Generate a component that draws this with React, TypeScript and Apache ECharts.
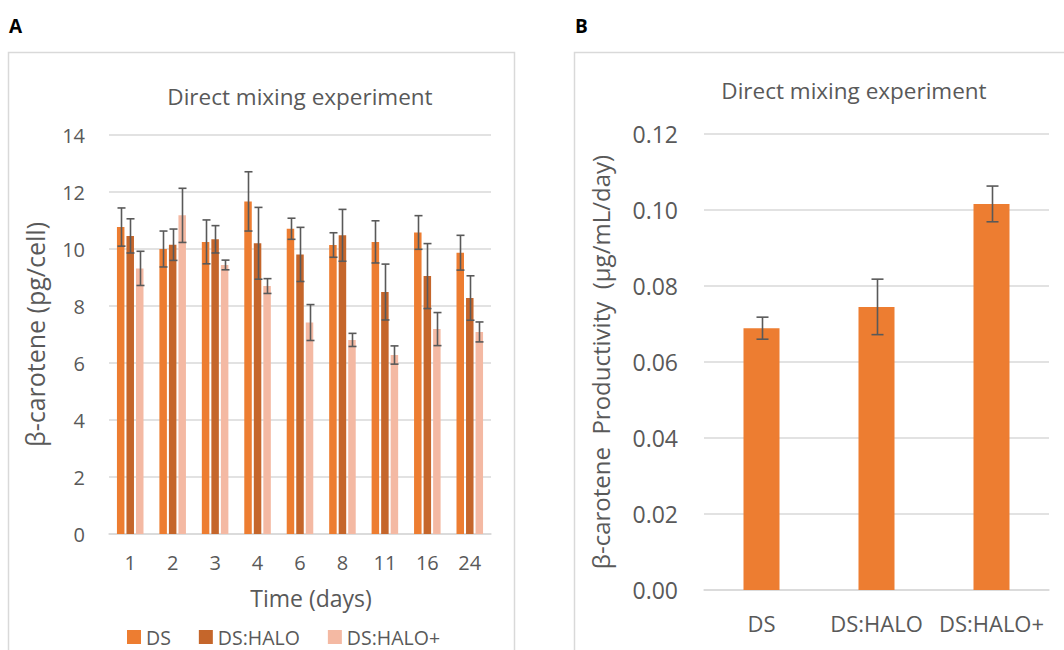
import React, { useEffect, useRef } from "react";
import * as echarts from "echarts";

const days = ["1", "2", "3", "4", "6", "8", "11", "16", "24"];
const dsMean = [10.77, 10.0, 10.25, 11.67, 10.71, 10.14, 10.25, 10.58, 9.87];
const dsErr = [0.67, 0.63, 0.77, 1.04, 0.37, 0.43, 0.74, 0.59, 0.61];
const haloMean = [10.46, 10.15, 10.34, 10.2, 9.81, 10.48, 8.49, 9.05, 8.28];
const haloErr = [0.6, 0.55, 0.48, 1.26, 0.95, 0.91, 0.98, 1.14, 0.78];
const haloPlusMean = [9.32, 11.18, 9.44, 8.7, 7.42, 6.81, 6.28, 7.19, 7.09];
const haloPlusErr = [0.6, 0.95, 0.17, 0.26, 0.63, 0.23, 0.32, 0.58, 0.35];
const seriesNamesA = ["DS", "DS:HALO", "DS:HALO+"];
const yTicksA = { min: 0, max: 14, interval: 2 };

const groupsB = ["DS", "DS:HALO", "DS:HALO+"];
const prodMean = [0.0689, 0.0745, 0.1016];
const prodErr = [0.0029, 0.0073, 0.0047];
const yTicksB = { min: 0, max: 0.12, interval: 0.02 };

const COLORS = ["#ED7D31", "#C5662B", "#F4B9A3"];
const GRID = "#D9D9D9";
const TXT = "#595959";
const ERR = "#595959";
const FONT = "'Open Sans', 'Noto Sans', sans-serif";

const BAR_W_A = 7.5;
const BAR_STEP_A = 9.5;

function errSeries(name: string, xi: number, yi: number, means: number[], errs: number[], offset: number, cap: number) {
  return {
    name,
    type: "custom",
    xAxisIndex: xi,
    yAxisIndex: yi,
    z: 10,
    silent: true,
    data: means.map((m, i) => [i, m - errs[i], m + errs[i]]),
    renderItem: (params: any, api: any) => {
      const idx = api.value(0);
      const lo = api.coord([idx, api.value(1)]);
      const hi = api.coord([idx, api.value(2)]);
      const cx = Math.round(lo[0] + offset) + 0.5;
      const st = { stroke: ERR, lineWidth: 1.6 };
      return {
        type: "group",
        children: [
          { type: "line", shape: { x1: cx, y1: hi[1], x2: cx, y2: lo[1] }, style: st },
          { type: "line", shape: { x1: cx - cap / 2, y1: hi[1], x2: cx + cap / 2, y2: hi[1] }, style: st },
          { type: "line", shape: { x1: cx - cap / 2, y1: lo[1], x2: cx + cap / 2, y2: lo[1] }, style: st },
        ],
      };
    },
  };
}

export default function App() {
  const ref = useRef<HTMLDivElement>(null);
  useEffect(() => {
    if (!ref.current) return;
    const chart = echarts.init(ref.current, undefined, { renderer: "svg" });
    const meansA = [dsMean, haloMean, haloPlusMean];
    const errsA = [dsErr, haloErr, haloPlusErr];
    const option: any = {
      animation: false,
      backgroundColor: "#ffffff",
      graphic: [
        { type: "rect", shape: { x: 8.5, y: 52.5, width: 506, height: 620 }, style: { fill: "none", stroke: GRID, lineWidth: 1.5 } },
        { type: "rect", shape: { x: 574.5, y: 52.5, width: 520, height: 620 }, style: { fill: "none", stroke: GRID, lineWidth: 1.5 } },
        { type: "text", style: { text: "A", x: 9, y: 26, textVerticalAlign: "middle", font: `bold 19px ${FONT}`, fill: "#000" } },
        { type: "text", style: { text: "B", x: 575, y: 26, textVerticalAlign: "middle", font: `bold 19px ${FONT}`, fill: "#000" } },
        { type: "text", style: { text: "Direct mixing experiment", x: 300, y: 96, textAlign: "center", textVerticalAlign: "middle", font: `22.5px ${FONT}`, fill: TXT } },
        { type: "text", style: { text: "Direct mixing experiment", x: 854, y: 90, textAlign: "center", textVerticalAlign: "middle", font: `22.5px ${FONT}`, fill: TXT } },
        { type: "text", style: { text: "Time (days)", x: 311, y: 598, textAlign: "center", textVerticalAlign: "middle", font: `23px ${FONT}`, fill: TXT } },
      ],
      legend: {
        data: seriesNamesA,
        left: 127,
        top: 627,
        padding: 0,
        icon: "rect",
        itemWidth: 14,
        itemHeight: 14,
        itemGap: 28,
        textStyle: { color: TXT, fontSize: 19.5, lineHeight: 20, fontFamily: FONT },
      },
      grid: [
        { left: 109, right: 1064 - 491, top: 135, bottom: 650 - 534 },
        { left: 704, right: 1064 - 1049, top: 134, bottom: 650 - 590 },
      ],
      xAxis: [
        {
          type: "category",
          gridIndex: 0,
          data: days,
          axisLine: { lineStyle: { color: GRID, width: 1.5 } },
          axisTick: { show: false },
          axisLabel: { color: TXT, fontSize: 20, fontFamily: FONT, margin: 18 },
        },
        {
          type: "category",
          gridIndex: 1,
          data: groupsB,
          axisLine: { lineStyle: { color: GRID, width: 1.5 } },
          axisTick: { show: false },
          axisLabel: { color: TXT, fontSize: 22, fontFamily: FONT, margin: 22, interval: 0 },
        },
      ],
      yAxis: [
        {
          type: "value",
          gridIndex: 0,
          ...yTicksA,
          axisLine: { show: false },
          axisTick: { show: false },
          splitLine: { lineStyle: { color: GRID, width: 1.5 } },
          axisLabel: { color: TXT, fontSize: 20, fontFamily: FONT, margin: 24 },
          name: "β-carotene (pg/cell)",
          nameLocation: "middle",
          nameRotate: 90,
          nameGap: 62,
          nameTextStyle: { color: TXT, fontSize: 25, fontFamily: FONT },
        },
        {
          type: "value",
          gridIndex: 1,
          ...yTicksB,
          axisLine: { show: false },
          axisTick: { show: false },
          splitLine: { lineStyle: { color: GRID, width: 1.5 } },
          axisLabel: { color: TXT, fontSize: 23, fontFamily: FONT, margin: 26, formatter: (v: number) => v.toFixed(2) },
          name: "β-carotene  Productivity  (μg/mL/day)",
          nameLocation: "middle",
          nameRotate: 90,
          nameGap: 92,
          nameTextStyle: { color: TXT, fontSize: 24, fontFamily: FONT },
        },
      ],
      series: [
        ...seriesNamesA.map((n, k) => ({
          name: n,
          type: "bar",
          xAxisIndex: 0,
          yAxisIndex: 0,
          barWidth: BAR_W_A,
          barGap: "27%",
          itemStyle: { color: COLORS[k] },
          data: meansA[k],
        })),
        ...seriesNamesA.map((n, k) => errSeries(n + " err", 0, 0, meansA[k], errsA[k], (k - 1) * BAR_STEP_A, 8)),
        {
          name: "Productivity",
          type: "bar",
          xAxisIndex: 1,
          yAxisIndex: 1,
          barWidth: 36,
          itemStyle: { color: COLORS[0] },
          data: prodMean,
        },
        errSeries("Productivity err", 1, 1, prodMean, prodErr, 0, 12),
      ],
    };
    chart.setOption(option);
    return () => chart.dispose();
  }, []);
  return <div ref={ref} style={{ position: "fixed", left: 0, top: 0, width: 1064, height: 650, background: "#fff" }} />;
}
